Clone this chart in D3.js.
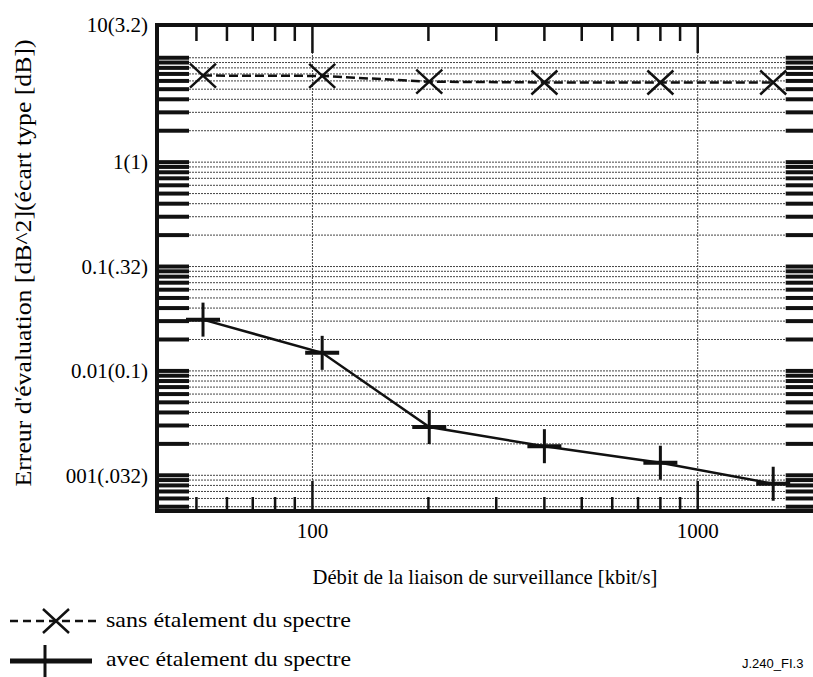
<!DOCTYPE html>
<html>
<head>
<meta charset="utf-8">
<script src="https://cdn.jsdelivr.net/npm/d3@7"></script>
<style>
  body { margin: 0; background: #fff; }
</style>
</head>
<body>
<svg id="chart"></svg>
<script>
// data
const rates = [52, 106, 201, 400, 800, 1570];            // kbit/s
const sansValues = [6.75, 6.7, 5.9, 5.8, 5.8, 5.8];       // sans étalement
const avecValues = [0.031, 0.0149, 0.0029, 0.0019, 0.00132, 0.00083]; // avec étalement
const xTickLabels = ["100", "1000"];
const yTickLabels = ["10(3.2)", "1(1)", "0.1(.32)", "0.01(0.1)", "001(.032)"];
const yTickValues = [20.6, 1, 0.1, 0.01, 0.001];

const font = "'Liberation Serif', Tinos, 'Times New Roman', Times, serif";

const width = 813, height = 677;
const svg = d3.select('#chart').attr('width', width).attr('height', height);

const x = d3.scaleLog().domain([39.5, 2000]).range([157, 813.7]);
const y = d3.scaleLog().domain([0.000455, 20.6]).range([511, 25]);

const [x0, x1] = x.range();
const [yb, yt] = y.range();

// minor values on each axis
const decades = (lo, hi) => {
  const out = [];
  for (let d = lo; d <= hi; d *= 10)
    for (let k = 1; k <= 9; k++) out.push(+(k * d).toPrecision(3));
  return out;
};
const xMinor = decades(10, 1000).filter(v => v > 41 && v < 1990);
const yGrid = decades(0.0001, 1).concat([10]).filter(v => v >= 0.0005 && v <= 10);

// horizontal dotted grid
svg.append('g').selectAll('line')
  .data(yGrid).enter().append('line')
  .attr('x1', x0 + 32).attr('x2', x1 - 28)
  .attr('y1', d => y(d)).attr('y2', d => y(d))
  .attr('stroke', '#444').attr('stroke-width', 1)
  .attr('stroke-dasharray', '2,1');

// vertical dotted grid at decades
svg.append('g').selectAll('line')
  .data([100, 1000]).enter().append('line')
  .attr('x1', d => x(d)).attr('x2', d => x(d))
  .attr('y1', yt).attr('y2', yb)
  .attr('stroke', '#444').attr('stroke-width', 1)
  .attr('stroke-dasharray', '2,1');

// y ticks, left and right
const yTicks = svg.append('g');
yTicks.selectAll('.l').data(yGrid).enter().append('line')
  .attr('x1', x0).attr('x2', x0 + 32)
  .attr('y1', d => y(d)).attr('y2', d => y(d))
  .attr('stroke', '#111').attr('stroke-width', 4);
yTicks.selectAll('.r').data(yGrid).enter().append('line')
  .attr('x1', x1 - 28).attr('x2', x1)
  .attr('y1', d => y(d)).attr('y2', d => y(d))
  .attr('stroke', '#111').attr('stroke-width', 4);

// x ticks, top and bottom
const isMajor = d => d === 100 || d === 1000;
const xTicks = svg.append('g');
xTicks.selectAll('.t').data(xMinor).enter().append('line')
  .attr('x1', d => x(d)).attr('x2', d => x(d))
  .attr('y1', yt).attr('y2', d => yt + (isMajor(d) ? 28 : 16))
  .attr('stroke', '#111').attr('stroke-width', 2.5);
xTicks.selectAll('.b').data(xMinor).enter().append('line')
  .attr('x1', d => x(d)).attr('x2', d => x(d))
  .attr('y1', yb).attr('y2', d => yb - (isMajor(d) ? 30 : 14))
  .attr('stroke', '#111').attr('stroke-width', 2.5);

// frame (right side falls outside the page)
svg.append('path')
  .attr('d', `M${x1 + 2},${yt}H${x0}V${yb}H${x1 + 2}`)
  .attr('fill', 'none').attr('stroke', '#111').attr('stroke-width', 4);

// tick labels
svg.append('g').selectAll('text')
  .data(xTickLabels).enter().append('text')
  .attr('x', d => x(+d)).attr('y', yb + 27)
  .attr('text-anchor', 'middle')
  .style('font-family', font).style('font-size', '21px')
  .text(d => d);

svg.append('g').selectAll('text')
  .data(yTickLabels).enter().append('text')
  .attr('x', x0 - 9).attr('y', (d, i) => y(yTickValues[i]))
  .attr('dy', '0.35em')
  .attr('text-anchor', 'end')
  .style('font-family', font).style('font-size', '21px')
  .text(d => d);

// axis titles
svg.append('text')
  .attr('x', 485).attr('y', 584)
  .attr('text-anchor', 'middle')
  .attr('textLength', 345).attr('lengthAdjust', 'spacingAndGlyphs')
  .style('font-family', font).style('font-size', '21px')
  .text('Débit de la liaison de surveillance [kbit/s]');

svg.append('text')
  .attr('transform', 'translate(31,263) rotate(-90)')
  .attr('text-anchor', 'middle')
  .attr('textLength', 447).attr('lengthAdjust', 'spacingAndGlyphs')
  .style('font-family', font).style('font-size', '23px')
  .text("Erreur d'évaluation [dB^2](écart type [dB])");

// series
const line = d3.line().x(d => x(d[0])).y(d => y(d[1]));
const sans = rates.map((r, i) => [r, sansValues[i]]);
const avec = rates.map((r, i) => [r, avecValues[i]]);

svg.append('path').datum(sans).attr('d', line)
  .attr('fill', 'none').attr('stroke', '#111').attr('stroke-width', 2.5)
  .attr('stroke-dasharray', '9,4');
svg.append('path').datum(avec).attr('d', line)
  .attr('fill', 'none').attr('stroke', '#111').attr('stroke-width', 2.5);

const cross = (g, cx, cy) => {
  g.append('path')
    .attr('d', `M${cx - 13},${cy - 12}L${cx + 13},${cy + 12}M${cx - 13},${cy + 12}L${cx + 13},${cy - 12}`)
    .attr('stroke', '#111').attr('stroke-width', 2.5).attr('fill', 'none');
};
const plus = (g, cx, cy) => {
  g.append('line').attr('x1', cx - 17).attr('x2', cx + 17).attr('y1', cy).attr('y2', cy)
    .attr('stroke', '#111').attr('stroke-width', 4);
  g.append('line').attr('x1', cx).attr('x2', cx).attr('y1', cy - 17).attr('y2', cy + 17)
    .attr('stroke', '#111').attr('stroke-width', 3);
};

const marks = svg.append('g');
sans.forEach(d => cross(marks, x(d[0]), y(d[1])));
avec.forEach(d => plus(marks, x(d[0]), y(d[1])));

// legend
const lg = svg.append('g');
lg.append('line').attr('x1', 10).attr('x2', 98).attr('y1', 621).attr('y2', 621)
  .attr('stroke', '#111').attr('stroke-width', 2.5).attr('stroke-dasharray', '8,5');
cross(lg, 56, 621);
lg.append('text').attr('x', 106).attr('y', 620).attr('dy', '0.35em')
  .attr('textLength', 245).attr('lengthAdjust', 'spacingAndGlyphs')
  .style('font-family', font).style('font-size', '21px').text('sans étalement du spectre');

lg.append('line').attr('x1', 10).attr('x2', 92).attr('y1', 661).attr('y2', 661)
  .attr('stroke', '#111').attr('stroke-width', 5);
lg.append('line').attr('x1', 45).attr('x2', 45).attr('y1', 645).attr('y2', 677)
  .attr('stroke', '#111').attr('stroke-width', 3);
lg.append('text').attr('x', 106).attr('y', 659).attr('dy', '0.35em')
  .attr('textLength', 245).attr('lengthAdjust', 'spacingAndGlyphs')
  .style('font-family', font).style('font-size', '21px').text('avec étalement du spectre');

svg.append('text').attr('x', 742).attr('y', 668)
  .style('font-family', "'Liberation Sans', Arial, sans-serif").style('font-size', '13px')
  .text('J.240_FI.3');
</script>
</body>
</html>
